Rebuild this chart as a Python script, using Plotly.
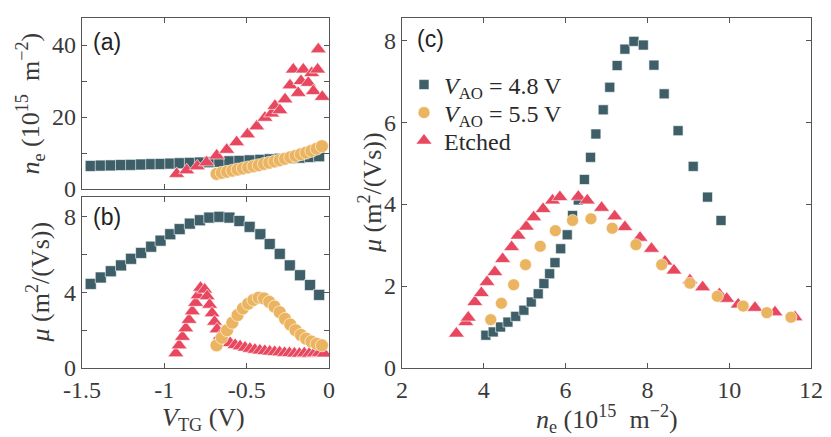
import plotly.graph_objects as go

# (a) and (b): V_AO = 4.8 V squares
vtg_sq = [-1.447, -1.386, -1.325, -1.263, -1.202, -1.141, -1.080, -1.023, -0.964, -0.907, -0.845, -0.784,
          -0.727, -0.666, -0.605, -0.544, -0.482, -0.417, -0.360, -0.299, -0.238, -0.176, -0.115, -0.060]
ne_sq_a = [6.4, 6.5, 6.55, 6.65, 6.7, 6.8, 6.9, 6.95, 7.05, 7.15, 7.25, 7.35,
           7.45, 7.55, 7.7, 7.8, 7.95, 8.1, 8.25, 8.4, 8.55, 8.7, 8.9, 9.1]
mu_sq_b = [4.45, 4.79, 5.12, 5.43, 5.78, 6.09, 6.42, 6.74, 7.08, 7.35, 7.64, 7.82,
           7.96, 8.0, 7.96, 7.78, 7.47, 7.08, 6.56, 6.04, 5.43, 4.91, 4.39, 3.87]

# (a) and (b): V_AO = 5.5 V circles
vtg_ci = [-0.683, -0.651, -0.619, -0.587, -0.555, -0.523, -0.491, -0.459, -0.427, -0.395, -0.363,
          -0.331, -0.299, -0.267, -0.235, -0.203, -0.171, -0.139, -0.107, -0.075, -0.043]
ne_ci_a = [4.2, 4.5, 4.8, 5.1, 5.4, 5.7, 6.0, 6.3, 6.6, 6.95, 7.3,
           7.65, 8.0, 8.4, 8.8, 9.2, 9.65, 10.1, 10.6, 11.2, 11.9]
mu_ci_b = [1.2, 1.6, 2.0, 2.4, 2.8, 3.15, 3.4, 3.6, 3.72, 3.68, 3.5,
           3.25, 2.95, 2.6, 2.3, 2.0, 1.75, 1.55, 1.4, 1.28, 1.2]

# (a): etched triangles
vtg_tri_a = [-0.925, -0.864, -0.800, -0.743, -0.682, -0.621, -0.561, -0.495, -0.439, -0.389, -0.348, -0.328,
             -0.298, -0.267, -0.237, -0.217, -0.187, -0.170, -0.156, -0.126, -0.105, -0.095, -0.069, -0.065, -0.041]
ne_tri_a = [4.2, 5.2, 6.3, 7.4, 9.3, 10.9, 13.0, 15.2, 17.4, 19.8, 21.0, 23.1,
            21.9, 24.9, 28.8, 33.2, 26.7, 30.0, 33.2, 29.5, 32.2, 27.2, 33.2, 38.8, 25.6]

# (b): etched triangles
vtg_tri_b = [-0.93, -0.91, -0.89, -0.87, -0.85, -0.83, -0.81, -0.795, -0.78,
             -0.755, -0.74, -0.725, -0.71, -0.695, -0.68, -0.66,
             -0.63, -0.60, -0.57, -0.54, -0.51, -0.48, -0.45, -0.42, -0.39, -0.36, -0.33,
             -0.30, -0.27, -0.24, -0.21, -0.18, -0.15, -0.12, -0.09, -0.06, -0.03]
mu_tri_b = [0.78, 1.2, 1.65, 2.1, 2.55, 3.0, 3.45, 3.85, 4.25,
            4.15, 3.8, 3.35, 2.9, 2.45, 2.05, 1.7,
            1.45, 1.32, 1.22, 1.15, 1.08, 1.02, 0.97, 0.93, 0.9, 0.87, 0.85,
            0.83, 0.8, 0.79, 0.77, 0.76, 0.78, 0.76, 0.78, 0.8, 0.77]

# (c): mobility vs density
ne_sq_c = [4.05, 4.23, 4.41, 4.59, 4.78, 4.98, 5.16, 5.33, 5.47, 5.61, 5.74, 5.88, 6.04, 6.17, 6.31,
           6.46, 6.61, 6.74, 6.92, 7.08, 7.26, 7.45, 7.67, 7.90, 8.16, 8.41, 8.75, 9.12, 9.47, 9.80]
mu_sq_c = [0.80, 0.88, 1.0, 1.12, 1.26, 1.41, 1.61, 1.81, 2.06, 2.30, 2.57, 2.91, 3.25, 3.72, 4.1,
           4.6, 5.14, 5.71, 6.30, 6.85, 7.38, 7.78, 7.97, 7.88, 7.39, 6.69, 5.79, 4.92, 4.17, 3.60]
ne_ci_c = [4.17, 4.43, 4.73, 5.02, 5.38, 5.75, 6.17, 6.62, 7.14, 7.72, 8.35, 9.04, 9.71, 10.34, 10.92, 11.51]
mu_ci_c = [1.18, 1.58, 2.03, 2.52, 2.97, 3.35, 3.60, 3.64, 3.41, 3.01, 2.52, 2.07, 1.75, 1.51, 1.35, 1.24]
ne_tri_c = [3.33, 3.56, 3.62, 3.78, 3.94, 4.08, 4.27, 4.46, 4.68, 4.84, 5.04, 5.22, 5.45, 5.68, 5.86, 6.31,
            6.53, 6.88, 7.20, 7.45, 7.82, 8.10, 8.43, 8.65, 9.04, 9.35, 9.76, 9.94, 10.22, 10.63, 11.12, 11.61]
mu_tri_c = [0.84, 1.12, 1.23, 1.61, 1.83, 2.10, 2.34, 2.66, 2.95, 3.23, 3.45, 3.68, 3.88, 4.09, 4.17, 4.18,
            4.09, 3.91, 3.70, 3.44, 3.18, 2.91, 2.60, 2.38, 2.14, 1.97, 1.80, 1.69, 1.55, 1.47, 1.36, 1.24]

series_names = ["<i>V</i><sub>AO</sub>&nbsp;=&nbsp;4.8 V", "<i>V</i><sub>AO</sub>&nbsp;=&nbsp;5.5 V", "Etched"]

C_SQ = "#3e5f67"
C_CI = "#ebb460"
C_TRI = "#e8485f"
SERIF = "Liberation Serif"
W, H = 831, 437


def mk(symbol, color, size):
    return dict(symbol=symbol, color=color, size=size, line=dict(color="white", width=0.6))


fig = go.Figure()

# panel (a)
fig.add_trace(go.Scatter(x=vtg_sq, y=ne_sq_a, mode="markers", marker=mk("square", C_SQ, 11),
                         xaxis="x", yaxis="y", showlegend=False))
fig.add_trace(go.Scatter(x=vtg_tri_a, y=ne_tri_a, mode="markers", marker=mk("triangle-up", C_TRI, 14),
                         xaxis="x", yaxis="y", showlegend=False))
fig.add_trace(go.Scatter(x=vtg_ci, y=ne_ci_a, mode="markers", marker=mk("circle", C_CI, 13),
                         xaxis="x", yaxis="y", showlegend=False))
# panel (b)
fig.add_trace(go.Scatter(x=vtg_sq, y=mu_sq_b, mode="markers", marker=mk("square", C_SQ, 11),
                         xaxis="x2", yaxis="y2", showlegend=False))
fig.add_trace(go.Scatter(x=vtg_tri_b, y=mu_tri_b, mode="markers", marker=mk("triangle-up", C_TRI, 14),
                         xaxis="x2", yaxis="y2", showlegend=False))
fig.add_trace(go.Scatter(x=vtg_ci, y=mu_ci_b, mode="markers", marker=mk("circle", C_CI, 13),
                         xaxis="x2", yaxis="y2", showlegend=False))
# panel (c), one legend box per entry so the rows can sit closer together
fig.add_trace(go.Scatter(x=ne_sq_c, y=mu_sq_c, mode="markers", marker=mk("square", C_SQ, 10),
                         xaxis="x3", yaxis="y3", name=series_names[0], legend="legend"))
fig.add_trace(go.Scatter(x=ne_tri_c, y=mu_tri_c, mode="markers", marker=mk("triangle-up", C_TRI, 14),
                         xaxis="x3", yaxis="y3", name=series_names[2], legend="legend3"))
fig.add_trace(go.Scatter(x=ne_ci_c, y=mu_ci_c, mode="markers", marker=mk("circle", C_CI, 12),
                         xaxis="x3", yaxis="y3", name=series_names[1], legend="legend2"))

axis_style = dict(showline=True, linecolor="#555555", linewidth=1.3, mirror="ticks", ticks="inside",
                  ticklen=5, tickcolor="#555555", showgrid=False, zeroline=False, automargin=False,
                  tickfont=dict(family=SERIF, size=24, color="#3a3a3a"))
minor_style = dict(ticks="inside", ticklen=5, tickcolor="#555555", showgrid=False)

vtg_ticks = [-1.5, -1, -0.5, 0]
vtg_ticktext = ["-1.5", "-1", "-0.5", "0"]

leg_x = 404
leg_rows = [85, 113, 141]
leg_style = dict(x=leg_x / W, xanchor="left", yanchor="middle",
                 font=dict(family=SERIF, size=24, color="#2a2a2a"), bgcolor="rgba(0,0,0,0)")

fig.update_layout(
    width=W, height=H,
    margin=dict(l=0, r=0, t=0, b=0, autoexpand=False),
    paper_bgcolor="white", plot_bgcolor="white",
    xaxis=dict(axis_style, domain=[82 / W, 329 / W], range=[-1.5, 0], anchor="y",
               tickvals=vtg_ticks, showticklabels=False),
    yaxis=dict(axis_style, domain=[1 - 189 / H, 1 - 18 / H], range=[0, 47.5], anchor="x",
               tick0=0, dtick=20, minor=dict(minor_style, dtick=10)),
    xaxis2=dict(axis_style, domain=[82 / W, 329 / W], range=[-1.5, 0], anchor="y2",
                tickvals=vtg_ticks, ticktext=vtg_ticktext),
    yaxis2=dict(axis_style, domain=[1 - 368 / H, 1 - 197 / H], range=[0, 9.05], anchor="x2",
                tick0=0, dtick=4, minor=dict(minor_style, dtick=2)),
    xaxis3=dict(axis_style, domain=[402 / W, 811 / W], range=[2, 12], anchor="y3",
                tick0=2, dtick=2),
    yaxis3=dict(axis_style, domain=[1 - 368 / H, 1 - 18 / H], range=[0, 8.54], anchor="x3",
                tick0=0, dtick=2),
    legend=dict(leg_style, y=1 - leg_rows[0] / H),
    legend2=dict(leg_style, y=1 - leg_rows[1] / H),
    legend3=dict(leg_style, y=1 - leg_rows[2] / H),
)

ne_title = "<i>n</i><sub>e</sub> (10<sup>15</sup>&nbsp;&nbsp;m<sup>−2</sup>)"
mu_title = "<i>μ</i>&nbsp;(m<sup>2</sup>/(Vs))"
vtg_title = "<i>V</i><sub>TG</sub>&nbsp;(V)"
title_font = dict(family=SERIF, size=26, color="#3a3a3a")

titles = [
    (ne_title, 31, 103.5, -90),
    (mu_title, 39, 282.5, -90),
    (mu_title, 370, 193, -90),
    (vtg_title, 203, 419, 0),
    (ne_title, 606.5, 419, 0),
]
for text, px, py, ang in titles:
    fig.add_annotation(text=text, x=px / W, y=1 - py / H, xref="paper", yref="paper",
                       showarrow=False, textangle=ang, font=title_font,
                       xanchor="center", yanchor="middle")

for text, px, py in [("(a)", 107, 42), ("(b)", 107, 217), ("(c)", 430, 39)]:
    fig.add_annotation(text=text, x=px / W, y=1 - py / H, xref="paper", yref="paper",
                       showarrow=False, font=dict(family="Liberation Sans", size=23, color="#222222"),
                       xanchor="center", yanchor="middle")

# drop the browser's default body margin so the 831x437 figure fills the window
fig.write_html("out.html", config={"displayModeBar": False},
               post_script="document.body.style.margin = '0';")
